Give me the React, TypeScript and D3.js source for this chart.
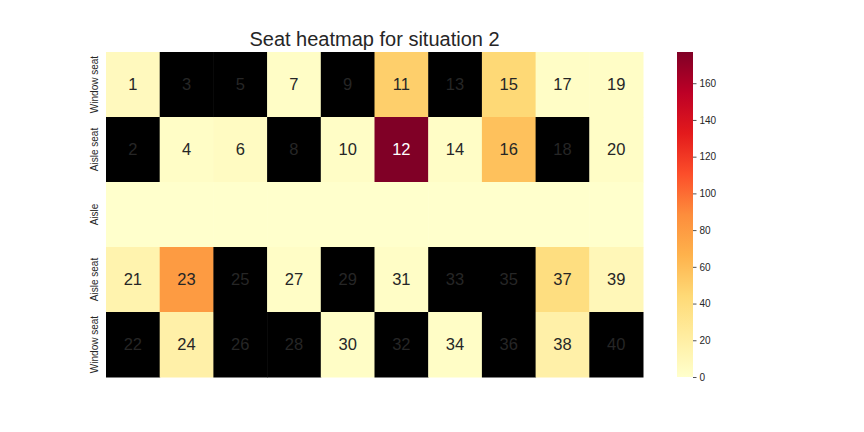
import React, { useEffect, useRef } from 'react';
import * as d3 from 'd3';

const rowLabels = ['Window seat', 'Aisle seat', 'Aisle', 'Aisle seat', 'Window seat'];
const seatNumbers: (number | null)[][] = [
  [1, 3, 5, 7, 9, 11, 13, 15, 17, 19],
  [2, 4, 6, 8, 10, 12, 14, 16, 18, 20],
  [null, null, null, null, null, null, null, null, null, null],
  [21, 23, 25, 27, 29, 31, 33, 35, 37, 39],
  [22, 24, 26, 28, 30, 32, 34, 36, 38, 40],
];
// null = empty seat (drawn black)
const seatValues: (number | null)[][] = [
  [7, null, null, 3, null, 50, null, 44, 3, 3],
  [null, 3, 5, null, 3, 177, 3, 58, null, 3],
  [0, 0, 0, 0, 0, 0, 0, 0, 0, 0],
  [15, 80, null, 3, null, 3, null, null, 39, 10],
  [null, 18, null, null, 3, null, 3, null, 18, null],
];
const colorTicks = [0, 20, 40, 60, 80, 100, 120, 140, 160];
const vmax = 177;
const title = 'Seat heatmap for situation 2';

const App = () => {
  const svgRef = useRef<SVGSVGElement>(null);

  useEffect(() => {
    const svg = d3.select(svgRef.current);
    svg.selectAll('*').remove();

    const width = 864;
    const height = 432;
    const margin = { top: 52, left: 106, right: 643, bottom: 377 };
    const font = 'Liberation Sans, Arial, sans-serif';
    const textColor = '#262626';

    const nCols = seatValues[0].length;
    const x = d3.scaleBand<number>().domain(d3.range(nCols)).range([margin.left, margin.right]);
    const y = d3.scaleBand<number>().domain(d3.range(rowLabels.length)).range([margin.top, margin.bottom]);

    const stops = d3.schemeYlOrRd[9];
    const color = d3.scaleLinear<string>()
      .domain(stops.map((_, i) => (i / (stops.length - 1)) * vmax))
      .range(stops)
      .interpolate(d3.interpolateRgb)
      .clamp(true);

    svg.append('rect').attr('width', width).attr('height', height).attr('fill', '#fff');

    // cells
    const cells = seatValues.flatMap((row, r) =>
      row.map((v, c) => ({ r, c, v, seat: seatNumbers[r][c] }))
    );
    const g = svg.append('g');
    g.selectAll('rect.cell')
      .data(cells)
      .enter().append('rect')
      .attr('class', 'cell')
      .attr('x', d => x(d.c)!)
      .attr('y', d => y(d.r)!)
      .attr('width', x.bandwidth() + 0.5)
      .attr('height', y.bandwidth() + 0.5)
      .attr('fill', d => (d.v === null ? '#000' : color(d.v)));

    // annotations
    g.selectAll('text.annot')
      .data(cells.filter(d => d.seat !== null))
      .enter().append('text')
      .attr('class', 'annot')
      .attr('x', d => x(d.c)! + x.bandwidth() / 2)
      .attr('y', d => y(d.r)! + y.bandwidth() / 2)
      .attr('dy', '0.35em')
      .attr('text-anchor', 'middle')
      .style('font-family', font)
      .style('font-size', '16.5px')
      .attr('fill', d => {
        if (d.v === null) return textColor;
        const c = d3.rgb(color(d.v));
        const lum = 0.2126 * c.r / 255 + 0.7152 * c.g / 255 + 0.0722 * c.b / 255;
        return lum > 0.408 ? textColor : '#fff';
      })
      .text(d => String(d.seat));

    // row labels
    svg.append('g')
      .selectAll('text')
      .data(rowLabels)
      .enter().append('text')
      .attr('transform', (_, i) => `translate(${margin.left - 8},${y(i)! + y.bandwidth() / 2}) rotate(-90)`)
      .attr('text-anchor', 'middle')
      .style('font-family', font)
      .style('font-size', '10px')
      .attr('fill', textColor)
      .text(d => d);

    // colorbar
    const cbX = 677;
    const cbW = 16;
    const cy = d3.scaleLinear().domain([0, vmax]).range([margin.bottom, margin.top]);
    const defs = svg.append('defs');
    const grad = defs.append('linearGradient')
      .attr('id', 'cbar')
      .attr('x1', 0).attr('y1', 1).attr('x2', 0).attr('y2', 0);
    stops.forEach((s, i) => {
      grad.append('stop').attr('offset', `${(i / (stops.length - 1)) * 100}%`).attr('stop-color', s);
    });
    svg.append('rect')
      .attr('x', cbX)
      .attr('y', margin.top)
      .attr('width', cbW)
      .attr('height', margin.bottom - margin.top)
      .attr('fill', 'url(#cbar)');

    const axis = svg.append('g')
      .attr('transform', `translate(${cbX + cbW},0)`)
      .call(d3.axisRight(cy).tickValues(colorTicks).tickSize(3.5).tickPadding(3));
    axis.select('.domain').remove();
    axis.selectAll('.tick line').attr('stroke', textColor).attr('stroke-width', 0.8);
    axis.selectAll('.tick text')
      .attr('fill', textColor)
      .style('font-family', font)
      .style('font-size', '10px');

    // title
    svg.append('text')
      .attr('x', (margin.left + margin.right) / 2)
      .attr('y', 46)
      .attr('text-anchor', 'middle')
      .style('font-family', font)
      .style('font-size', '20px')
      .attr('fill', textColor)
      .text(title);
  }, []);

  return (
    <svg
      ref={svgRef}
      width={864}
      height={432}
      style={{ position: 'absolute', left: 0, top: 0, display: 'block' }}
    ></svg>
  );
};

export default App;
